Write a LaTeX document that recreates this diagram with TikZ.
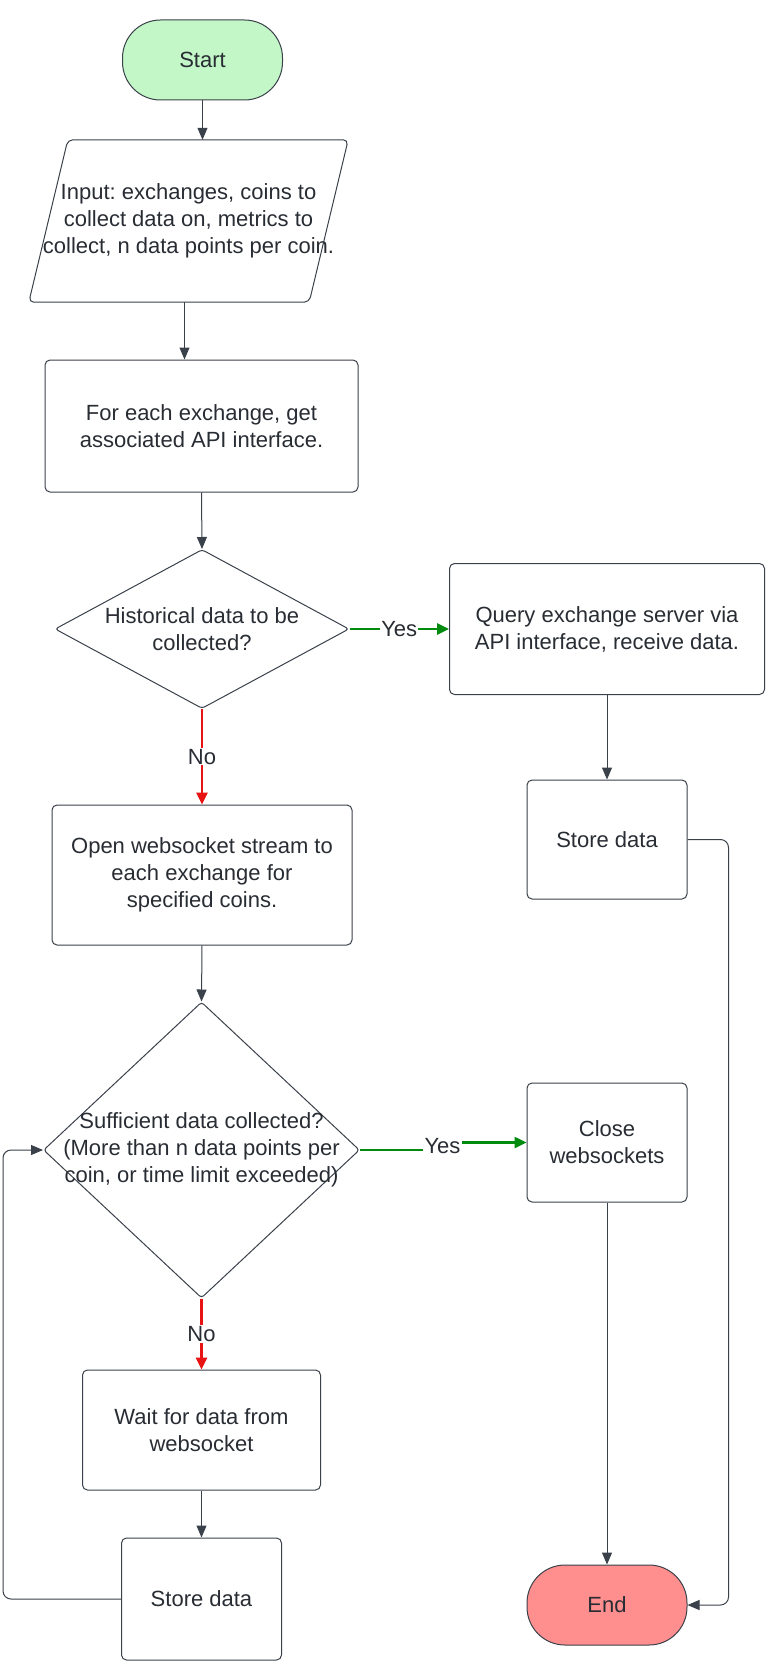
\documentclass[tikz,border=0pt]{standalone}
\usepackage{fontspec}
\setmainfont{Liberation Sans}
\frenchspacing
\usetikzlibrary{arrows.meta,shapes.geometric}
\definecolor{linecol}{RGB}{58,65,74}
\definecolor{txtcol}{RGB}{40,44,51}
\definecolor{startcol}{RGB}{195,247,200}
\definecolor{endcol}{RGB}{255,143,143}
\definecolor{yescol}{RGB}{0,138,14}
\definecolor{nocol}{RGB}{232,19,19}

\begin{document}
\begin{tikzpicture}[x=1pt, y=-1pt,
  every node/.style={font=\fontsize{22}{27}\selectfont, text=txtcol},
  box/.style={draw=linecol, line width=1pt, rounded corners=5pt, align=center, inner sep=0pt},
  term/.style={draw=linecol, line width=1pt, rounded corners=38pt, minimum width=160pt, minimum height=80pt},
  decision/.style={diamond, draw=linecol, line width=1pt, inner sep=0pt, rounded corners=3pt},
  inp/.style={align=center, inner sep=0pt, minimum width=319pt, minimum height=162pt},
  arr/.style={draw=linecol, line width=1pt, -{Triangle[length=12pt,width=10pt]}},
  yesarr/.style={draw=yescol, line width=2.5pt, -{Triangle[length=12pt,width=11pt]}},
  noarr/.style={draw=nocol, line width=2.5pt, -{Triangle[length=12pt,width=11pt]}},
  lbl/.style={fill=white, inner sep=1pt}]
  \useasboundingbox (0,0) rectangle (781,1680);

  % left column
  \node[term, fill=startcol] (start) at (202.5,60) {Start};
  \node[inp] (input) at (188.5,221) {Input: exchanges, coins to\\collect data on, metrics to\\collect, n data points per coin.};
  \draw[linecol, line width=1pt, rounded corners=5pt] ([xshift=39pt]input.north west) -- (input.north east)
    -- ([xshift=-39pt]input.south east) -- (input.south west) -- cycle;
  \node[box, minimum width=313pt, minimum height=132pt] (foreach) at (201.5,426) {For each exchange, get\\associated API interface.};
  \node[decision, minimum width=294pt, minimum height=159pt, label={[align=center]center:{Historical data to be\\collected?}}] (hist) at (202,629) {};
  \node[box, minimum width=300pt, minimum height=140pt] (openws) at (202,875) {Open websocket stream to\\each exchange for\\specified coins.};
  \node[decision, minimum width=316pt, minimum height=296pt, label={[align=center]center:{Sufficient data collected?\\(More than n data points per\\coin, or time limit exceeded)}}] (enough) at (201.5,1150) {};
  \node[box, minimum width=238pt, minimum height=120pt] (wait) at (201.5,1430) {Wait for data from\\websocket};
  \node[box, minimum width=160pt, minimum height=122pt] (storews) at (201.5,1599) {Store data};

  % right column
  \node[box, minimum width=315pt, minimum height=131pt] (query) at (607,629) {Query exchange server via\\API interface, receive data.};
  \node[box, minimum width=160pt, minimum height=119pt] (storehist) at (607,839.5) {Store data};
  \node[box, minimum width=160pt, minimum height=119pt] (closews) at (607,1142.5) {Close\\websockets};
  \node[term, fill=endcol] (end) at (607,1605) {End};
  \node[lbl] (yes2) at (442.5,1146.5) {Yes};

  \coordinate (fe-in) at ([xshift=-17pt]foreach.north);
  \draw[arr] (start.south) -- (start.south |- input.north);
  \draw[arr] (fe-in |- input.south) -- (fe-in);
  \draw[arr] (foreach.south) -- (hist.north);
  \draw[yesarr] (hist.east) -- node[lbl]{Yes} (query.west);
  \draw[noarr] (hist.south) -- node[lbl]{No} (openws.north);
  \draw[arr] (openws.south) -- (enough.north);
  \draw[yesarr, -] (enough.east) -- (enough.east -| yes2.west);
  \draw[yesarr] (yes2.east |- closews.west) -- (closews.west);
  \draw[noarr] (enough.south) -- node[lbl]{No} (wait.north);
  \draw[arr] (wait.south) -- (storews.north);
  \draw[arr, rounded corners=8pt] (storews.west) -- ++(-118,0) |- (enough.west);
  \draw[arr] (query.south) -- (storehist.north);
  \draw[arr, rounded corners=8pt] (storehist.east) -- ++(41,0) |- (end.east);
  \draw[arr] (closews.south) -- (end.north);
\end{tikzpicture}
\end{document}
